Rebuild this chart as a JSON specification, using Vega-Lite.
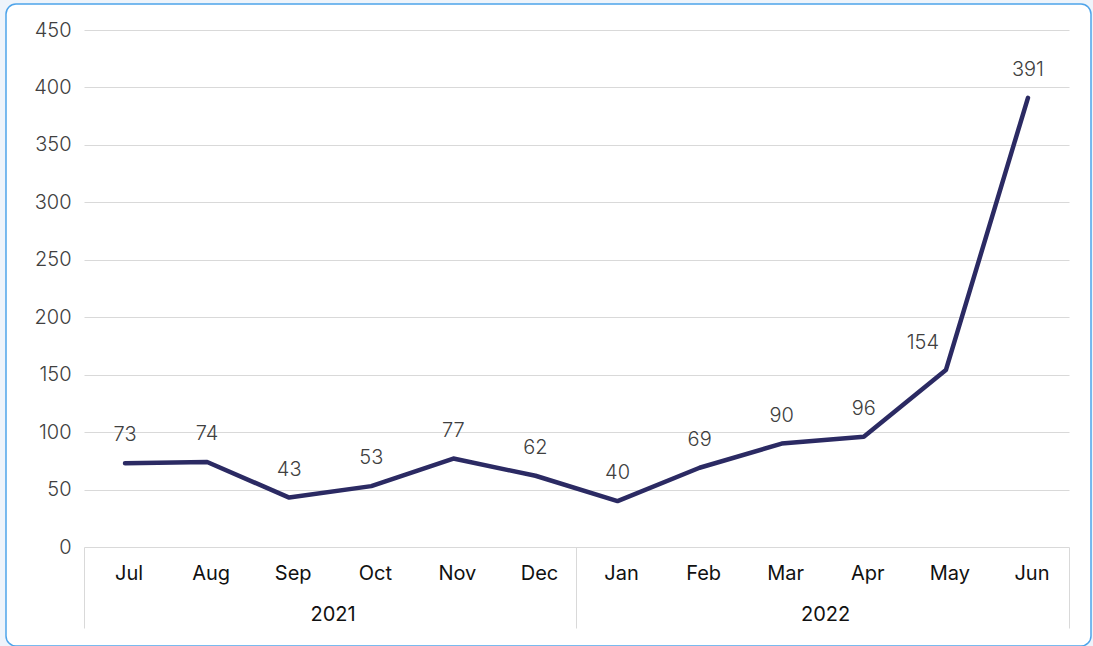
{
  "$schema": "https://vega.github.io/schema/vega-lite/v6.json",
  "autosize": {"type": "none"},
  "width": 1085,
  "height": 642,
  "padding": {"left": 6, "top": 4, "right": 2, "bottom": 0},
  "background": "#eef4fb",
  "config": {
    "view": {"stroke": "#4ea4ea", "strokeWidth": 1.5, "cornerRadius": 10, "fill": "white"},
    "font": "Inter"
  },
  "data": {
    "values": [
      {"month": "Jul", "year": "2021", "value": 73},
      {"month": "Aug", "year": "2021", "value": 74},
      {"month": "Sep", "year": "2021", "value": 43},
      {"month": "Oct", "year": "2021", "value": 53},
      {"month": "Nov", "year": "2021", "value": 77},
      {"month": "Dec", "year": "2021", "value": 62},
      {"month": "Jan", "year": "2022", "value": 40},
      {"month": "Feb", "year": "2022", "value": 69},
      {"month": "Mar", "year": "2022", "value": 90},
      {"month": "Apr", "year": "2022", "value": 96},
      {"month": "May", "year": "2022", "value": 154},
      {"month": "Jun", "year": "2022", "value": 391}
    ]
  },
  "encoding": {
    "y": {
      "field": "value",
      "type": "quantitative",
      "scale": {"domain": [0, 450], "range": [543, 26], "nice": false, "zero": true},
      "axis": {
        "title": null,
        "orient": "left",
        "offset": -1063,
        "values": [0, 50, 100, 150, 200, 250, 300, 350, 400, 450],
        "grid": false,
        "domain": false,
        "ticks": true,
        "tickSize": 985,
        "tickColor": "#d9d9d9",
        "tickWidth": 1,
        "labelPadding": 13,
        "labelFont": "Inter",
        "labelFontSize": 20,
        "labelFontWeight": 300,
        "labelColor": "#404040"
      }
    }
  },
  "resolve": {"axis": {"x": "independent"}},
  "layer": [
    {
      "mark": {"type": "line", "color": "#2b2a63", "strokeWidth": 4.5, "strokeCap": "round", "strokeJoin": "round"},
      "encoding": {
        "x": {
          "field": "month",
          "type": "nominal",
          "sort": null,
          "bandPosition": 0.5,
          "scale": {"type": "band", "range": [78, 1063], "paddingInner": 0, "paddingOuter": 0},
          "axis": {
            "title": null,
            "orient": "bottom",
            "offset": -99,
            "bandPosition": 0.5,
            "domain": false,
            "ticks": false,
            "tickSize": 0,
            "grid": false,
            "labelAngle": 0,
            "labelOffset": 4,
            "labelBaseline": "alphabetic",
            "labelPadding": 32,
            "labelFont": "Inter",
            "labelFontSize": 20,
            "labelFontWeight": "normal",
            "labelColor": "#111111"
          }
        }
      }
    },
    {
      "transform": [{"filter": "datum.month != 'May'"}],
      "mark": {"type": "text", "baseline": "alphabetic", "dy": -22, "font": "Inter", "fontSize": 20, "fontWeight": 300, "color": "#404040"},
      "encoding": {
        "x": {
          "field": "month",
          "type": "nominal",
          "sort": null,
          "bandPosition": 0.5,
          "axis": {
            "title": null,
            "orient": "bottom",
            "offset": -99,
            "bandPosition": 0,
            "values": ["Jul", "Jan"],
            "domain": false,
            "ticks": true,
            "tickSize": 81,
            "tickColor": "#d9d9d9",
            "tickWidth": 1,
            "grid": false,
            "labelAngle": 0,
            "labelAlign": "center",
            "labelBaseline": "alphabetic",
            "labelExpr": "datum.value == 'Jul' ? '2021' : '2022'",
            "labelOffset": 208,
            "labelPadding": -8,
            "labelFont": "Inter",
            "labelFontSize": 20,
            "labelFontWeight": "normal",
            "labelColor": "#111111"
          }
        },
        "text": {"field": "value", "type": "quantitative"}
      }
    },
    {
      "transform": [{"filter": "datum.month == 'May'"}],
      "mark": {"type": "text", "baseline": "alphabetic", "dy": -21, "dx": -23, "font": "Inter", "fontSize": 20, "fontWeight": 300, "color": "#404040"},
      "encoding": {
        "x": {
          "field": "month",
          "type": "nominal",
          "sort": null,
          "bandPosition": 0.5,
          "axis": {
            "title": null,
            "orient": "bottom",
            "offset": -99,
            "bandPosition": 1,
            "values": ["Jun"],
            "domain": false,
            "ticks": true,
            "tickSize": 81,
            "tickColor": "#d9d9d9",
            "tickWidth": 1,
            "grid": false,
            "labels": false
          }
        },
        "text": {"field": "value", "type": "quantitative"}
      }
    }
  ]
}
